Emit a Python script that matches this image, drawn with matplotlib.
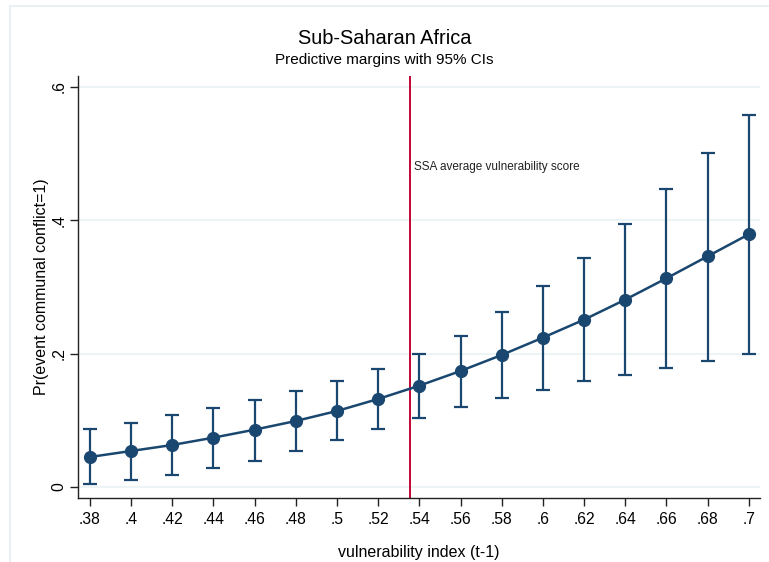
import matplotlib
matplotlib.use("Agg")
import matplotlib.pyplot as plt
from matplotlib.lines import Line2D

plt.rcParams['font.family'] = ['Liberation Sans', 'DejaVu Sans']

# vulnerability index values and predictive margins with 95% CIs
vuln = [0.38, 0.40, 0.42, 0.44, 0.46, 0.48, 0.50, 0.52, 0.54,
        0.56, 0.58, 0.60, 0.62, 0.64, 0.66, 0.68, 0.70]
margin = [0.045, 0.054, 0.063, 0.074, 0.086, 0.099, 0.114, 0.132, 0.152,
          0.174, 0.198, 0.224, 0.251, 0.281, 0.313, 0.346, 0.379]
ci_low = [0.005, 0.011, 0.018, 0.029, 0.039, 0.054, 0.071, 0.087, 0.104,
          0.120, 0.134, 0.146, 0.159, 0.168, 0.179, 0.189, 0.200]
ci_high = [0.087, 0.096, 0.108, 0.119, 0.131, 0.144, 0.159, 0.177, 0.200,
           0.227, 0.262, 0.301, 0.344, 0.394, 0.447, 0.501, 0.558]
ssa_avg = 0.5353

xtick_labels = ['.38', '.4', '.42', '.44', '.46', '.48', '.5', '.52', '.54',
                '.56', '.58', '.6', '.62', '.64', '.66', '.68', '.7']
yticks = [0, 0.2, 0.4, 0.6]
ytick_labels = ['0', '.2', '.4', '.6']

navy = '#1a476f'

fig = plt.figure(figsize=(7.69, 5.62), dpi=100)
ax = fig.add_axes([0.1014, 0.1139, 0.8870, 0.7509])

# grid lines
for y in yticks:
    ax.axhline(y, color='#eaf2f3', lw=1.2, zorder=0)

lower = [m - l for m, l in zip(margin, ci_low)]
upper = [h - m for m, h in zip(margin, ci_high)]
ax.errorbar(vuln, margin, yerr=[lower, upper], fmt='none', ecolor=navy,
            elinewidth=1.6, capsize=5, capthick=1.6, zorder=2)
ax.plot(vuln, margin, color=navy, lw=1.8, marker='o', markersize=8.5, zorder=3)

ax.axvline(ssa_avg, color='#c10534', lw=1.4, zorder=1)
ax.text(ssa_avg + 0.002, 0.48, 'SSA average vulnerability score',
        fontsize=8.5, color='#222222', va='center', ha='left')

ax.set_xlim(0.3742, 0.7055)
ax.set_ylim(-0.0165, 0.6165)
ax.set_xticks(vuln)
ax.set_xticklabels(xtick_labels)
ax.set_yticks(yticks)
ax.set_yticklabels(ytick_labels, rotation=90, va='center')

ax.spines['top'].set_visible(False)
ax.spines['right'].set_visible(False)
for s in ('left', 'bottom'):
    ax.spines[s].set_color('#222222')
    ax.spines[s].set_linewidth(1.0)
ax.tick_params(axis='both', length=6, width=1.0, color='#222222',
               labelsize=11.3, pad=4)
ax.tick_params(axis='y', pad=2)

ax.set_xlabel('vulnerability index (t-1)', fontsize=11.5, labelpad=13)
ax.set_ylabel('Pr(event communal conflict=1)', fontsize=11.5, labelpad=2)

fig.text(0.5, 1 - 38 / 562, 'Sub-Saharan Africa', ha='center', va='center',
         fontsize=14.4)
fig.text(0.5, 1 - 60 / 562, 'Predictive margins with 95% CIs', ha='center',
         va='center', fontsize=11)

# faint outer frame
fig.add_artist(Line2D([10 / 769, 1], [1 - 6 / 562, 1 - 6 / 562],
                      transform=fig.transFigure, color='#e6eef0', lw=1.2))
fig.add_artist(Line2D([10 / 769, 10 / 769], [0, 1 - 6 / 562],
                      transform=fig.transFigure, color='#e6eef0', lw=1.2))

fig.savefig('out.png', dpi=100)
